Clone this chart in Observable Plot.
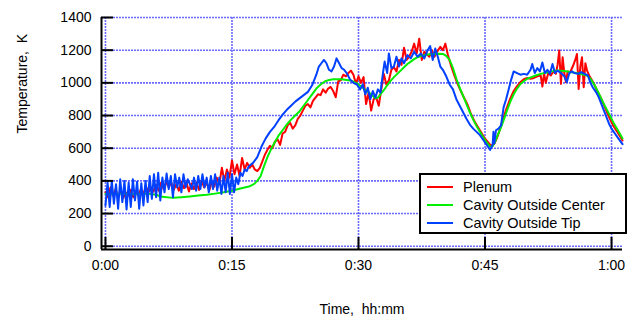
<!DOCTYPE html>
<html><head><meta charset="utf-8">
<script src="https://cdn.jsdelivr.net/npm/d3@7"></script>
<script src="https://cdn.jsdelivr.net/npm/@observablehq/plot@0.6"></script>
<style>
html,body{margin:0;padding:0;background:#fff;}
#wrap{position:relative;width:631px;height:323px;font-family:"Liberation Sans",Arial,sans-serif;}
#legend{position:absolute;left:419px;top:173px;width:204px;height:57px;border:2px solid #000;background:#fff;}
.item{position:absolute;left:6px;height:18px;display:flex;align-items:center;font-size:14.5px;color:#000;white-space:nowrap;}
.sw{width:26px;height:2px;margin-right:10px;}
</style></head>
<body>
<div id="wrap"></div>
<script>
const xTickValues = [0, 15, 30, 45, 60];
const xTickLabels = ["0:00", "0:15", "0:30", "0:45", "1:00"];
const yTickValues = [0, 200, 400, 600, 800, 1000, 1200, 1400];
const seriesNames = ["Plenum", "Cavity Outside Center", "Cavity Outside Tip"];
const seriesColors = ["#ff0000", "#00ee00", "#0040ff"];
const xTitle = "Time,\u00a0 hh:mm";
const yTitle = "Temperature,\u00a0 K";

// [minutes, K]
const plenum = [[0,330],[0.3,300],[0.6,360],[0.9,310],[1.2,350],[1.5,300],[1.8,340],[2.1,295],[2.4,330],[2.7,310],[3,345],[3.3,300],[3.6,335],[3.9,310],[4.2,350],[4.5,320],[4.8,365],[5.1,330],[5.4,360],[5.7,335],[6,375],[6.3,340],[6.6,390],[6.9,350],[7.2,395],[7.5,360],[7.8,390],[8.1,345],[8.4,380],[8.7,340],[9,395],[9.3,355],[9.6,390],[9.9,335],[10.2,385],[10.5,350],[10.8,390],[11.1,345],[11.4,400],[11.7,360],[12,390],[12.3,340],[12.6,395],[12.9,365],[13.2,420],[13.5,380],[13.8,480],[14.1,400],[14.4,470],[14.7,420],[15,525],[15.3,440],[15.6,500],[15.9,430],[16.2,540],[16.5,470],[16.8,510],[17.1,480],[17.4,500],[17.7,470],[18,460],[18.3,480],[18.6,520],[18.9,560],[19.2,590],[19.5,615],[19.8,600],[20.1,640],[20.4,655],[20.7,620],[21,690],[21.3,700],[21.6,740],[21.9,755],[22.2,720],[22.5,740],[22.8,780],[23.1,800],[23.4,830],[23.7,860],[24,870],[24.3,850],[24.6,890],[24.9,910],[25.2,930],[25.5,925],[25.8,960],[26.1,940],[26.4,965],[26.7,975],[27,950],[27.3,912],[27.6,1010],[27.9,1015],[28.2,1050],[28.5,1040],[28.8,1060],[29.1,1075],[29.4,1050],[29.7,995],[30,1040],[30.3,1000],[30.6,1035],[30.9,870],[31.2,940],[31.5,830],[31.8,900],[32.1,910],[32.4,860],[32.7,960],[33,1055],[33.3,990],[33.6,1015],[33.9,1080],[34.2,1095],[34.5,1070],[34.8,1140],[35.1,1110],[35.4,1215],[35.7,1140],[36,1160],[36.3,1190],[36.6,1240],[36.9,1180],[37.2,1270],[37.5,1140],[37.8,1190],[38.1,1175],[38.4,1160],[38.7,1200],[39,1160],[39.3,1190],[39.7,1220],[40,1200],[40.3,1240],[40.6,1170],[41,1100],[41.3,1055],[41.7,1000],[42.1,953],[42.5,910],[42.9,870],[43.3,815],[43.7,770],[44.1,735],[44.5,700],[44.9,665],[45.3,640],[45.7,615],[46.1,627],[46.4,660],[46.8,720],[47.2,790],[47.6,850],[48,905],[48.4,950],[48.8,980],[49.2,1005],[49.6,1022],[50,1030],[50.4,1025],[50.8,1030],[51.2,1040],[51.6,1045],[51.8,977],[52,1060],[52.2,1000],[52.5,1060],[52.8,1045],[53.1,1070],[53.4,1055],[53.6,1110],[53.8,1198],[54,994],[54.2,1157],[54.4,1060],[54.6,1004],[54.8,1070],[55.1,1065],[55.4,1100],[55.7,1140],[55.9,1177],[56.1,963],[56.3,1100],[56.5,1157],[56.7,973],[56.9,1120],[57.1,1075],[57.4,1040],[57.7,1014],[58,985],[58.3,950],[58.7,912],[59.1,865],[59.5,815],[59.9,769],[60.3,730],[60.8,690],[61.3,647]];

const cavityCenter = [[0,320],[1,318],[2,322],[3,320],[4,318],[5,322],[6,315],[6.5,305],[7,302],[8,296],[9,300],[10,305],[11,310],[12,315],[13,322],[14,330],[15,340],[16,353],[17,365],[17.6,380],[18,400],[18.4,430],[18.8,490],[19.2,545],[19.6,590],[20,630],[20.5,675],[21,710],[21.5,745],[22,775],[22.5,800],[23,825],[23.5,860],[24,895],[24.5,930],[25,965],[25.5,990],[26,1008],[26.5,1018],[27,1022],[28,1022],[29,1015],[29.5,1005],[30,990],[30.5,970],[31,950],[31.5,930],[32,905],[32.3,910],[32.6,930],[33,955],[33.4,985],[33.8,1012],[34.2,1035],[34.6,1055],[35,1075],[35.4,1095],[35.8,1115],[36.2,1130],[36.6,1145],[37,1157],[37.5,1165],[38,1172],[38.5,1175],[39,1177],[39.5,1178],[40,1177],[40.4,1165],[40.8,1140],[41.2,1090],[41.6,1025],[42,970],[42.4,920],[42.8,870],[43.2,820],[43.6,775],[44,735],[44.4,700],[44.8,665],[45.2,635],[45.6,610],[45.9,612],[46.2,640],[46.5,680],[46.8,715],[47.2,770],[47.6,830],[48,885],[48.4,930],[48.8,965],[49.2,993],[49.6,1010],[50,1025],[50.5,1035],[51,1045],[51.6,1055],[52.2,1062],[52.8,1070],[53.6,1075],[54.4,1072],[55.1,1066],[55.8,1060],[56.5,1052],[57.1,1045],[57.5,1025],[57.9,994],[58.3,955],[58.7,912],[59.1,870],[59.5,830],[59.9,790],[60.3,749],[60.8,705],[61.3,660]];

const cavityTip = [[0,250],[0.25,390],[0.5,240],[0.75,400],[1,260],[1.25,380],[1.5,230],[1.75,410],[2,270],[2.25,400],[2.5,225],[2.75,390],[3,240],[3.25,410],[3.5,280],[3.75,395],[4,230],[4.25,385],[4.5,250],[4.75,400],[5,270],[5.25,430],[5.5,290],[5.75,440],[6,300],[6.25,450],[6.5,280],[6.75,420],[7,330],[7.25,445],[7.5,350],[7.75,430],[8,300],[8.25,440],[8.5,360],[8.75,420],[9,330],[9.25,440],[9.5,360],[9.75,410],[10,380],[10.25,350],[10.5,420],[10.75,340],[11,430],[11.25,350],[11.5,440],[11.75,360],[12,420],[12.25,330],[12.5,430],[12.75,350],[13,440],[13.25,340],[13.5,420],[13.75,320],[14,430],[14.25,330],[14.5,450],[14.75,320],[15,440],[15.25,330],[15.5,420],[15.75,380],[16,450],[16.25,430],[16.5,470],[16.75,460],[17,490],[17.5,510],[18,545],[18.5,610],[19,660],[19.5,700],[20,730],[20.5,770],[21,805],[21.5,835],[22,860],[22.5,885],[23,905],[23.5,925],[24,945],[24.5,985],[25,1050],[25.3,1100],[25.6,1120],[25.9,1140],[26.2,1120],[26.5,1080],[26.8,1070],[27.1,1100],[27.4,1150],[27.7,1120],[28,1090],[28.3,1080],[28.6,1060],[29,1020],[29.4,1000],[29.8,990],[30.2,960],[30.5,990],[30.8,930],[31.1,970],[31.4,900],[31.7,950],[32,910],[32.3,960],[32.6,940],[32.9,1060],[33.1,1130],[33.4,1060],[33.6,1180],[33.9,1090],[34.2,1100],[34.5,1160],[34.8,1100],[35.1,1150],[35.4,1120],[35.8,1170],[36.2,1150],[36.6,1190],[37,1160],[37.4,1180],[37.8,1150],[38.2,1200],[38.5,1225],[38.8,1140],[39.1,1210],[39.4,1160],[39.7,1100],[40,1080],[40.4,1040],[40.8,990],[41.2,960],[41.6,900],[42,860],[42.4,820],[42.8,780],[43.2,745],[43.6,720],[44,700],[44.4,680],[44.8,650],[45.2,620],[45.6,590],[45.9,620],[46,700],[46.1,630],[46.3,710],[46.6,720],[46.9,740],[47.2,850],[47.5,900],[47.8,960],[48.1,1020],[48.4,1070],[48.8,1060],[49.2,1050],[49.6,1055],[50,1050],[50.4,1080],[50.6,1115],[50.9,1060],[51.2,1090],[51.5,1070],[51.8,1125],[52.1,1060],[52.4,1080],[52.7,1055],[53,1115],[53.3,1060],[53.6,1075],[54,1060],[54.4,1040],[54.7,1005],[55,1060],[55.3,1070],[55.6,1060],[56,1055],[56.4,1065],[56.8,1055],[57.2,1045],[57.5,1000],[57.8,970],[58.2,940],[58.5,910],[58.8,870],[59.1,830],[59.4,790],[59.7,750],[60,720],[60.4,690],[60.8,660],[61.3,625]];

const xDomain = [-0.47, 61.3];
const yDomain = [-20, 1400];
const gridColor = "#6a6aff";

const seriesData = [plenum, cavityCenter, cavityTip];

const chart = Plot.plot({
  width: 631,
  height: 323,
  marginLeft: 101,
  marginRight: 9,
  marginTop: 17,
  marginBottom: 74,
  style: {fontFamily: "'Liberation Sans', Arial, sans-serif", fontSize: "14px", color: "#000", background: "#fff"},
  x: {domain: xDomain, label: null},
  y: {domain: yDomain, label: null},
  marks: [
    Plot.ruleY(yTickValues, {stroke: gridColor, strokeWidth: 1.6, strokeDasharray: "2,1"}),
    Plot.ruleX(xTickValues, {stroke: gridColor, strokeWidth: 1.6, strokeDasharray: "2,1"}),
    ...seriesData.map((d, i) => Plot.line(d, {x: p => p[0], y: p => p[1], stroke: seriesColors[i], strokeWidth: 2})),
    Plot.ruleX([xDomain[0]], {stroke: "#000", strokeWidth: 2}),
    Plot.ruleY([yDomain[0]], {stroke: "#000", strokeWidth: 2}),
    Plot.axisY(yTickValues, {tickSize: -12, tickPadding: 22, strokeWidth: 2, fontSize: 14, tickFormat: d => String(d), label: null}),
    Plot.axisX(xTickValues, {tickSize: -12, tickPadding: 23, strokeWidth: 2, fontSize: 14, tickFormat: d => xTickLabels[xTickValues.indexOf(d)], label: null}),
    Plot.text([yTitle], {frameAnchor: "left", dx: -79, rotate: -90, fontSize: 14}),
    Plot.text([xTitle], {frameAnchor: "bottom", dy: 64, fontSize: 14})
  ]
});
const wrap = document.getElementById("wrap");
wrap.appendChild(chart);

const legend = document.createElement("div");
legend.id = "legend";
seriesNames.forEach((name, i) => {
  const item = document.createElement("div");
  item.className = "item";
  item.style.top = (3 + 18 * i) + "px";
  const sw = document.createElement("span");
  sw.className = "sw";
  sw.style.background = seriesColors[i];
  const label = document.createElement("span");
  label.textContent = name;
  item.appendChild(sw);
  item.appendChild(label);
  legend.appendChild(item);
});
wrap.appendChild(legend);
</script>
</body></html>
